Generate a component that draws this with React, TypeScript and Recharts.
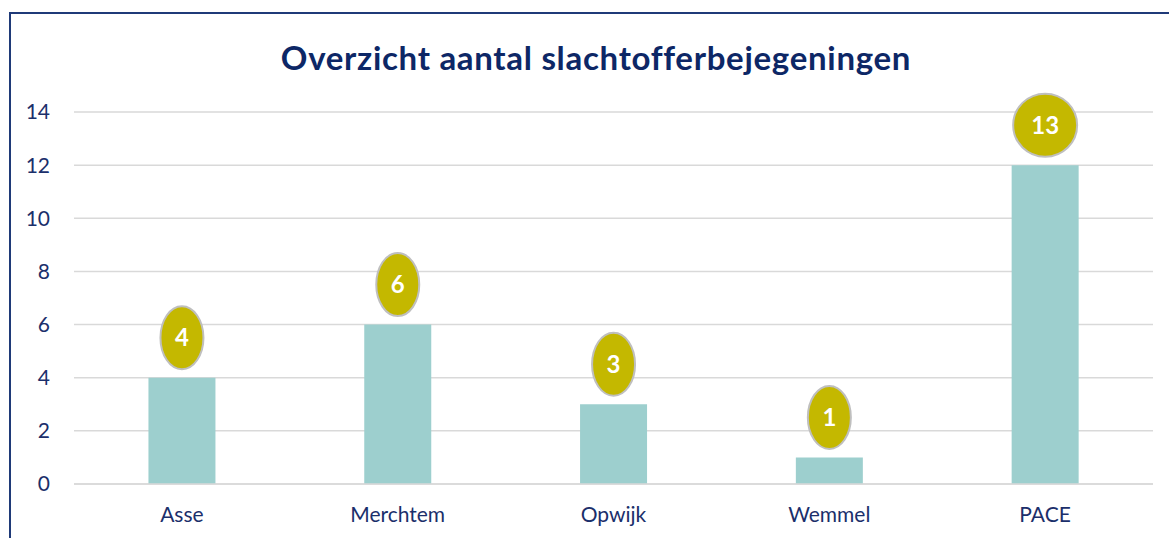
import { BarChart, Bar, XAxis, YAxis, CartesianGrid, LabelList } from "recharts";

const gemeenten = ["Asse", "Merchtem", "Opwijk", "Wemmel", "PACE"];
const aantallen = [4, 6, 3, 1, 12];
// the callout labels in the source read 13 for PACE even though the bar stops at 12
const labels = ["4", "6", "3", "1", "13"];
const yTicks = [0, 2, 4, 6, 8, 10, 12, 14];

const NAVY = "#1B2F6B";
const TITLE = "#0D2766";
const BAR = "#9DCFCE";
const BUBBLE = "#C4B800";

const data = gemeenten.map((g, i) => ({ gemeente: g, aantal: aantallen[i] }));

// Excel-style data callout: ellipse sitting above the bar, wider for 2 digits
function Bubble(props: any) {
  const { x, y, width, index } = props;
  const text = labels[index];
  const cx = x + width / 2;
  const cy = y - 40;
  const rx = text.length > 1 ? 32 : 21.5;
  return (
    <g>
      <ellipse cx={cx} cy={cy} rx={rx} ry={31.5} fill={BUBBLE} stroke="#BFBFBF" strokeWidth={2} />
      <text
        x={cx}
        y={cy}
        dy="0.36em"
        textAnchor="middle"
        fill="#fff"
        fontWeight={700}
        fontSize={24}
        fontFamily="Lato, sans-serif"
      >
        {text}
      </text>
    </g>
  );
}

export default function App() {
  return (
    <div style={{ position: "fixed", left: 0, top: 0, width: 1169, height: 538, background: "#fff", overflow: "hidden" }}>
      <div
        style={{
          position: "absolute",
          left: 9,
          top: 12,
          width: 1200,
          height: 600,
          borderLeft: "2px solid #1F3A78",
          borderTop: "2px solid #1F3A78",
        }}
      />
      <div
        style={{
          position: "absolute",
          left: 0,
          top: 37,
          width: 1192,
          textAlign: "center",
          fontFamily: "Lato, sans-serif",
          fontWeight: 700,
          fontSize: 33,
          letterSpacing: 0.7,
          lineHeight: "40px",
          color: TITLE,
        }}
      >
        Overzicht aantal slachtofferbejegeningen
      </div>
      <div style={{ position: "absolute", left: 0, top: 0 }}>
        <BarChart
          width={1169}
          height={538}
          data={data}
          margin={{ top: 112, right: 16, left: 0, bottom: 24 }}
          barCategoryGap="34.5%"
        >
          <CartesianGrid vertical={false} stroke="#D9D9D9" strokeWidth={1.5} />
          <XAxis
            dataKey="gemeente"
            axisLine={{ stroke: "#D9D9D9", strokeWidth: 1.5 }}
            tickLine={false}
            tickSize={0}
            tickMargin={23}
            height={30}
            tick={{ fill: NAVY, fontSize: 21, fontFamily: "Lato, sans-serif" }}
          />
          <YAxis
            domain={[0, 14]}
            ticks={yTicks}
            width={74}
            axisLine={false}
            tickLine={false}
            tickSize={0}
            tickMargin={24}
            tick={{ fill: NAVY, fontSize: 21, fontFamily: "Lato, sans-serif" }}
          />
          <Bar dataKey="aantal" fill={BAR} isAnimationActive={false}>
            <LabelList dataKey="aantal" content={<Bubble />} />
          </Bar>
        </BarChart>
      </div>
    </div>
  );
}
